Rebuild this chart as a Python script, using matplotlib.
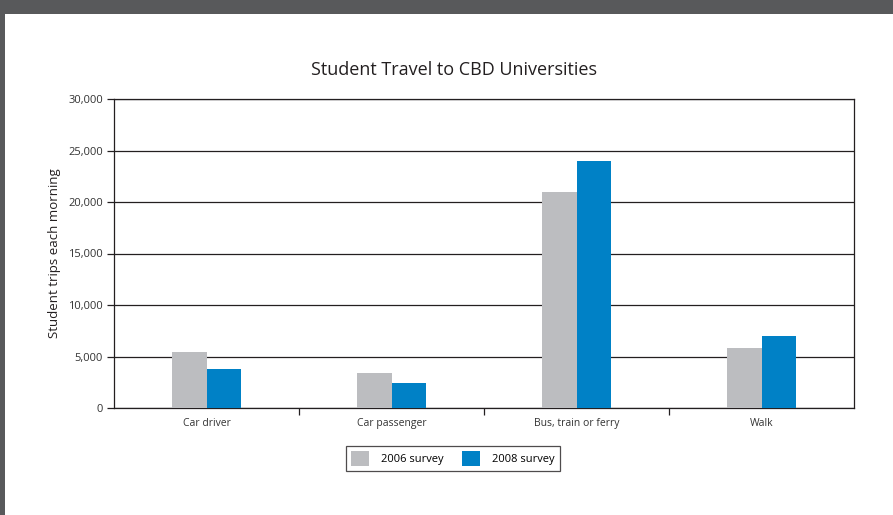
import matplotlib.pyplot as plt
from matplotlib.patches import Rectangle, Patch
import numpy as np

categories = ["Car driver", "Car passenger", "Bus, train or ferry", "Walk"]
survey_2006 = [5400, 3350, 21000, 5800]
survey_2008 = [3750, 2400, 24000, 6950]
series_names = ["2006 survey", "2008 survey"]
yticks = [0, 5000, 10000, 15000, 20000, 25000, 30000]

plt.rcParams['font.family'] = ['Open Sans', 'DejaVu Sans']

W, H = 893, 515
fig = plt.figure(figsize=(W / 100, H / 100), dpi=100)
fig.patch.set_facecolor('white')

# dark frame at top and left
fig.patches.append(Rectangle((0, 1 - 14 / H), 1, 14 / H, transform=fig.transFigure,
                             facecolor='#58595b', edgecolor='none', zorder=0))
fig.patches.append(Rectangle((0, 0), 4.5 / W, 1, transform=fig.transFigure,
                             facecolor='#58595b', edgecolor='none', zorder=0))

ax = fig.add_axes([114 / W, 1 - 408 / H, (854 - 114) / W, (408 - 99) / H])

x = np.arange(len(categories))
bw = 0.185
ax.bar(x - bw / 2, survey_2006, bw, color='#bcbdc0', zorder=3)
ax.bar(x + bw / 2, survey_2008, bw, color='#0081c6', zorder=3)

ax.set_xlim(-0.5, len(categories) - 0.5)
ax.set_ylim(0, 30000)
ax.set_yticks(yticks)
ax.set_yticklabels([f"{v:,}" for v in yticks], fontsize=8, color='#333333')
ax.yaxis.grid(True, color='#231f20', linewidth=0.9, zorder=1)

ax.set_xticks(x)
ax.set_xticklabels(categories, fontsize=7.5, color='#333333')
ax.tick_params(axis='x', length=0, pad=7)
ax.set_xticks(np.arange(0.5, len(categories) - 0.5, 1), minor=True)
ax.tick_params(axis='x', which='minor', length=5, width=0.9, color='#231f20', direction='out')
ax.tick_params(axis='y', length=5, width=0.9, color='#231f20', direction='out', pad=3)

for s in ['left', 'right', 'bottom', 'top']:
    ax.spines[s].set_color('#231f20')
    ax.spines[s].set_linewidth(0.9)

ax.set_ylabel("Student trips each morning", fontsize=9.5, color='#231f20')
ax.yaxis.set_label_coords(-0.071, 0.5)
fig.text(454 / W, 1 - 70 / H, "Student Travel to CBD Universities", ha='center', va='center',
         fontsize=13, color='#231f20')

handles = [Patch(facecolor='#bcbdc0', edgecolor='none'), Patch(facecolor='#0081c6', edgecolor='none')]
leg = fig.legend(handles, series_names, loc='center', bbox_to_anchor=(453 / W, 1 - 458 / H),
                 ncol=2, frameon=True, fancybox=False, fontsize=8, handlelength=1.6,
                 handleheight=1.7, columnspacing=1.6, borderpad=0.45, handletextpad=1.1)
leg.get_frame().set_edgecolor('#231f20')
leg.get_frame().set_linewidth(0.9)

fig.savefig("out.png", dpi=100)
